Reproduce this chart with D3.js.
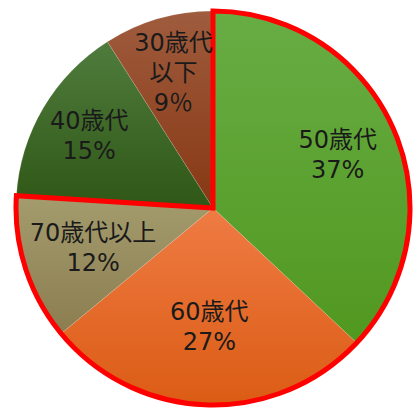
<!DOCTYPE html>
<html><head><meta charset="utf-8">
<script src="https://cdn.jsdelivr.net/npm/d3@7"></script>
<style>html,body{margin:0;padding:0;background:#fff;}</style>
</head><body>
<svg id="c" width="413" height="410"></svg>
<script>
const categories = ["50歳代", "60歳代", "70歳代以上", "40歳代", "30歳代以下"];
const labelLines = [["50歳代","37%"],["60歳代","27%"],["70歳代以上","12%"],["40歳代","15%"],["30歳代","以下","9％"]];
const values = [37, 27, 12, 15, 9];
const topColors = ["#68ad44", "#ef7b44", "#a49c6e", "#4f7c3d", "#9f5c3e"];
const bottomColors = ["#519820", "#db5c14", "#8b7d50", "#2f5716", "#873813"];
const highlighted = ["50歳代", "60歳代", "70歳代以上"];

const svg = d3.select("#c");
const cx = 213, cy = 208, r = 197;
const g = svg.append("g").attr("transform", `translate(${cx},${cy})`);
const defs = svg.append("defs");
categories.forEach((c, i) => {
  const lg = defs.append("linearGradient").attr("id", "grad" + i)
    .attr("x1", 0).attr("y1", 0).attr("x2", 0).attr("y2", 1);
  lg.append("stop").attr("offset", "0%").attr("stop-color", topColors[i]);
  lg.append("stop").attr("offset", "100%").attr("stop-color", bottomColors[i]);
});

const pie = d3.pie().sort(null).value(d => d)(values);
const arc = d3.arc().innerRadius(0).outerRadius(r);
// layout: label distance from centre, as a fraction of the radius
const labelRadiusFactor = [0.69, 0.6, 0.64, 0.73, 0.72];

g.selectAll("path.slice").data(pie).join("path").attr("class", "slice")
  .attr("d", arc).attr("fill", (d, i) => `url(#grad${i})`)
  .attr("stroke", "rgba(255,255,255,0.25)").attr("stroke-width", 0.5);

// red outline around highlighted group
const hiIdx = categories.map((c, i) => highlighted.includes(c) ? i : -1).filter(i => i >= 0);
const start = d3.min(hiIdx, i => pie[i].startAngle), end = d3.max(hiIdx, i => pie[i].endAngle);
g.append("path").attr("d", arc({startAngle: start, endAngle: end}))
  .attr("fill", "none").attr("stroke", "#ff0000").attr("stroke-width", 5).attr("stroke-linejoin", "miter");

const lh = 30;
pie.forEach((d, i) => {
  const lr = r * labelRadiusFactor[i];
  const [x, y] = d3.arc().innerRadius(lr).outerRadius(lr).centroid(d);
  const lines = labelLines[i];
  lines.forEach((l, k) => {
    g.append("text").attr("text-anchor", "middle")
      .attr("font-family", "'DejaVu Sans', 'Noto Sans CJK JP', sans-serif")
      .attr("font-size", 24).attr("fill", "#1a1a1a")
      .attr("x", x).attr("y", y + (k - (lines.length - 1) / 2) * lh + 9).text(l);
  });
});
</script>
</body></html>
